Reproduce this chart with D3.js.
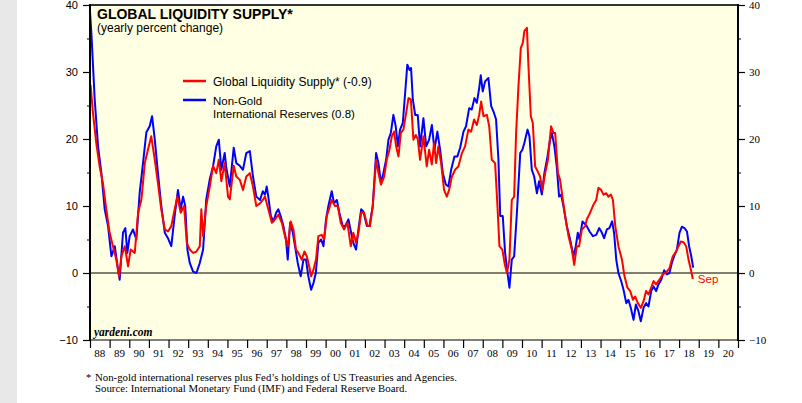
<!DOCTYPE html>
<html><head><meta charset="utf-8">
<script src="https://cdn.jsdelivr.net/npm/d3@7"></script>
<style>body{margin:0;background:#fff}svg{display:block}</style>
</head><body>
<script>
const yearLabels = ["88","89","90","91","92","93","94","95","96","97","98","99","00","01","02","03","04","05","06","07","08","09","10","11","12","13","14","15","16","17","18","19","20"];
const yTicks = [-10,0,10,20,30,40];
const yMinor = [-5,5,15,25,35];

const blueYears = [1988.00,1988.07,1988.24,1988.41,1988.58,1988.75,1988.92,1989.09,1989.26,1989.43,1989.51,1989.68,1989.80,1989.90,1990.02,1990.19,1990.36,1990.53,1990.70,1990.87,1991.04,1991.16,1991.30,1991.46,1991.63,1991.81,1991.97,1992.14,1992.31,1992.48,1992.62,1992.74,1992.85,1992.96,1993.08,1993.25,1993.42,1993.59,1993.76,1993.92,1994.10,1994.27,1994.43,1994.56,1994.69,1994.86,1994.94,1995.12,1995.32,1995.45,1995.63,1995.79,1995.96,1996.14,1996.30,1996.47,
1996.66,1996.80,1996.91,1997.00,1997.08,1997.21,1997.34,1997.48,1997.59,1997.71,1997.85,1997.98,1998.07,1998.19,1998.33,1998.44,1998.58,1998.73,1998.87,1999.00,1999.12,1999.26,1999.38,1999.50,1999.63,1999.77,1999.89,2000.02,2000.14,2000.31,2000.43,2000.57,2000.70,2000.87,2000.99,2001.16,2001.30,2001.41,2001.55,2001.67,2001.81,2001.92,2002.10,2002.23,2002.40,2002.57,2002.69,2002.82,2002.94,2003.08,2003.20,2003.32,2003.45,2003.57,2003.68,2003.79,2003.93,2004.05,2004.16,2004.27,2004.35,2004.44,2004.56,
2004.69,2004.81,2004.98,2005.12,2005.27,2005.41,2005.54,2005.69,2005.83,2005.97,2006.12,2006.25,2006.39,2006.56,2006.71,2006.85,2007.02,2007.15,2007.31,2007.44,2007.58,2007.70,2007.82,2007.90,2008.00,2008.12,2008.29,2008.43,2008.55,2008.68,2008.80,2008.89,2009.02,2009.14,2009.26,2009.36,2009.48,2009.60,2009.74,2009.91,2010.02,2010.12,2010.28,2010.38,2010.50,2010.62,2010.76,2010.87,2011.01,2011.14,2011.30,2011.43,2011.52,2011.65,2011.77,2011.89,2011.99,2012.11,2012.28,2012.45,2012.62,2012.74,2012.84,2012.93,2013.08,
2013.30,2013.44,2013.61,2013.78,2013.93,2014.07,2014.18,2014.32,2014.45,2014.59,2014.69,2014.80,2014.91,2015.05,2015.17,2015.31,2015.42,2015.54,2015.68,2015.80,2015.93,2016.05,2016.19,2016.32,2016.44,2016.58,2016.70,2016.83,2016.95,2017.09,2017.24,2017.38,2017.51,2017.63,2017.77,2017.89,2018.02,2018.14,2018.28,2018.40,2018.51,2018.62,2018.72];
const blueValues = [39,35.8,25.9,18.9,14.9,9.5,7,2.5,4,0.5,-1,6,6.7,3,5.5,6.5,5,12,16.4,21,21.9,23.4,19.9,14.9,10,6,5.2,4,8.5,12.4,9.5,11.4,10,3.5,1.5,0.2,0,1.5,3.5,11,14,16,18.9,19.9,15.4,17.9,15.7,12.9,18.7,16.4,16,15.4,17.9,18.2,14.4,11.4,
10.9,12.2,11.7,12.9,11.4,8.5,7.7,9,9.5,8.5,7,5,2,7.5,6,4,1.5,-0.5,2,2,-0.5,-2.5,-1.5,0,4.5,5,4,8,10,12.2,10.4,10.9,9,7,7,8,6,4.5,3.5,6.5,9.5,9.2,7,7,10,17.9,16.4,13.4,14.9,16.9,19.9,20.9,23.6,21.9,18.9,21.4,22.4,26.9,31.1,30.3,30.6,25.9,23.6,
23.6,18.9,23.1,18.9,19.9,22.1,18.4,21.1,18.4,14.9,13.2,12.9,15.4,17.4,17.4,18.7,21.1,21.9,24.6,24.4,26.1,25.4,27.6,29.5,27.1,28.6,29.1,24.9,24.1,22.9,16.9,8.5,8.5,3,0,-2.2,2,2.5,9,17.9,18.4,19.4,21.4,20.4,15.4,14.4,11.9,13.7,11.7,14.9,17.4,19.9,20.9,18.9,15.9,11.4,11.7,10,7,5,2.5,4,6,5,7.7,
7,6.2,5.5,5.7,6.7,6,5.2,6.5,6.7,7.7,6,2,0,-1.2,-2.5,-4.5,-4,-5.2,-7,-4.7,-5.7,-7.2,-5.2,-4.5,-5,-2.7,-2,-2.7,-1.7,-1,0.4,-0.2,0,1.5,2.7,3.5,6,6.9,6.7,6.2,4,2.5,0.8];

const redYears = [1988.03,1988.15,1988.32,1988.49,1988.66,1988.83,1989.00,1989.17,1989.34,1989.48,1989.60,1989.77,1989.94,1990.07,1990.28,1990.45,1990.62,1990.79,1990.95,1991.12,1991.30,1991.46,1991.63,1991.81,1991.97,1992.14,1992.31,1992.45,1992.62,1992.79,1992.93,1993.08,1993.25,1993.42,1993.59,1993.67,1993.76,1993.92,1994.10,1994.27,1994.43,1994.56,1994.69,1994.86,1995.03,1995.12,1995.32,1995.45,1995.63,1995.79,1995.96,1996.14,1996.30,1996.47,
1996.66,1996.80,1996.91,1997.00,1997.13,1997.26,1997.42,1997.59,1997.77,1997.93,1998.07,1998.22,1998.36,1998.49,1998.61,1998.78,1998.92,1999.04,1999.16,1999.26,1999.38,1999.51,1999.63,1999.80,1999.92,2000.06,2000.19,2000.31,2000.48,2000.62,2000.77,2000.94,2001.11,2001.28,2001.41,2001.55,2001.67,2001.81,2001.96,2002.13,2002.26,2002.40,2002.57,2002.69,2002.82,2002.98,2003.11,2003.25,2003.37,2003.49,2003.59,2003.71,2003.83,2003.96,2004.10,2004.22,2004.34,2004.47,2004.59,
2004.69,2004.81,2004.98,2005.15,2005.27,2005.41,2005.52,2005.63,2005.74,2005.88,2006.03,2006.17,2006.29,2006.43,2006.59,2006.76,2006.94,2007.10,2007.27,2007.41,2007.56,2007.70,2007.82,2007.92,2008.04,2008.21,2008.33,2008.46,2008.63,2008.75,2008.85,2009.00,2009.11,2009.23,2009.36,2009.48,2009.60,2009.70,2009.82,2009.94,2010.04,2010.12,2010.25,2010.33,2010.45,2010.55,2010.67,2010.79,2010.92,2011.04,2011.18,2011.32,2011.40,2011.48,2011.60,2011.69,2011.83,2011.94,2012.08,2012.20,2012.37,2012.54,2012.66,2012.79,2012.91,2013.05,2013.22,
2013.30,2013.47,2013.64,2013.78,2013.89,2014.03,2014.15,2014.29,2014.40,2014.53,2014.63,2014.75,2014.91,2015.09,2015.22,2015.37,2015.51,2015.65,2015.76,2015.90,2016.05,2016.19,2016.32,2016.44,2016.58,2016.70,2016.83,2017.00,2017.17,2017.34,2017.51,2017.68,2017.85,2017.97,2018.09,2018.22,2018.36,2018.48,2018.60,2018.70];
const redValues = [28.1,23.9,19.4,15.9,13.4,9.5,6,4,2,-0.5,2.5,4,1,3.5,3,9,11,16.4,18.4,20.4,16.9,13.4,9.5,6.5,6.2,7,9.5,11.4,9,10,4.5,3.5,3,3.2,4,9.5,5.5,10,12.9,16,14.9,16.9,13.7,16.4,11.4,11,16,14.4,13.9,12.4,14.4,14.9,12.9,10,
10.4,10.9,11.4,10.4,9,7.5,8,8.7,7.5,5.5,4,7.7,6.5,3.5,3,2,3.2,2.5,1,-0.5,0.5,2,5.5,5.7,5,8.5,9.7,10.9,10,10,7.5,6.5,7.5,4,6,4.5,6,9,9,7,7,10,16.9,14.9,13.2,14.4,16.9,18.4,20.4,21.1,18.9,17.4,20.9,21.4,23.9,26.1,25.9,19.9,20.6,
20,16.9,20.4,15.9,18.4,16.2,19.4,16.4,18.9,16.4,12.4,11.4,12.4,14.4,15.4,15.9,17.9,18.9,21.4,21.1,22.9,22.1,23.6,25.6,23.4,23.6,21.9,16.9,16.4,10,4,3.5,1.5,0,2,10.9,11.4,20.9,27.9,33.6,34.3,36.1,36.6,30.8,23.4,22.4,15.9,15.2,14.4,12.4,14.9,16.9,19.4,21.9,20.9,20.9,14.9,13.9,10.9,8.5,5.5,3.5,1.2,4,4,6.5,7,
8,9,10.2,10.9,12.7,12.4,11.7,11.9,11.4,11.7,10.9,7,4,2,-0.5,-2.2,-2.7,-4,-3.5,-4.5,-5.2,-4.2,-2.7,-3.2,-2.2,-1.2,-1.7,-1,-0.2,0.1,0.7,2.5,3.2,4,4.7,4.6,4,2,0.5,-0.9];

const W = 802, H = 403;
const svg = d3.select("body").append("svg").attr("width", W).attr("height", H);
const SANS = "'Liberation Sans', Arial, sans-serif";
const SERIF = "'Liberation Serif', 'Times New Roman', serif";

svg.append("rect").attr("x",0).attr("y",0).attr("width",17).attr("height",H).attr("fill","#e8e8e8");

const x = d3.scaleLinear().domain([1988, 2021]).range([90, 738]);
const y = d3.scaleLinear().domain([-10, 40]).range([340, 5]);

svg.append("rect").attr("x",90).attr("y",5).attr("width",648).attr("height",335).attr("fill","#ffffe3");

// zero line
svg.append("line").attr("x1",90).attr("x2",738).attr("y1",y(0)).attr("y2",y(0)).attr("stroke","#000").attr("stroke-width",1);

// lines
const pts = (xs, vs) => xs.map((d,i)=>[d, vs[i]]);
const line = d3.line().x(d=>x(d[0])).y(d=>y(d[1]));
const g = svg.append("g");
g.append("path").datum(pts(blueYears, blueValues)).attr("d", line).attr("fill","none").attr("stroke","#0000ff").attr("stroke-width",2).attr("stroke-linejoin","round");
g.append("path").datum(pts(redYears, redValues)).attr("d", line).attr("fill","none").attr("stroke","#ff0000").attr("stroke-width",2).attr("stroke-linejoin","round");

// border
svg.append("line").attr("x1",89).attr("x2",739).attr("y1",5).attr("y2",5).attr("stroke","#333").attr("stroke-width",2);
svg.append("line").attr("x1",90).attr("x2",90).attr("y1",4).attr("y2",341).attr("stroke","#000").attr("stroke-width",2);
svg.append("line").attr("x1",738).attr("x2",738).attr("y1",4).attr("y2",341).attr("stroke","#000").attr("stroke-width",2);
svg.append("line").attr("x1",89).attr("x2",739).attr("y1",340).attr("y2",340).attr("stroke","#000").attr("stroke-width",1);

// left axis
const la = svg.append("g").attr("transform","translate(90,0)")
  .call(d3.axisLeft(y).tickValues(yTicks).tickSize(7).tickPadding(5).tickFormat(d3.format("d")));
la.select(".domain").remove();
la.selectAll("text").attr("font-family", SANS).attr("font-size", 11).attr("fill","#000");
la.selectAll("line").attr("stroke-width",1.2);
const lm = svg.append("g").attr("transform","translate(90,0)")
  .call(d3.axisLeft(y).tickValues(yMinor).tickSize(3).tickFormat(""));
lm.select(".domain").remove();

// right axis
const ra = svg.append("g").attr("transform","translate(738,0)")
  .call(d3.axisRight(y).tickValues(yTicks).tickSize(7).tickPadding(4).tickFormat(d3.format("d")));
ra.select(".domain").remove();
ra.selectAll("text").attr("font-family", SERIF).attr("font-size", 11).attr("fill","#000");
ra.selectAll("line").attr("stroke-width",1.2);
const rm = svg.append("g").attr("transform","translate(738,0)")
  .call(d3.axisRight(y).tickValues(yMinor).tickSize(3).tickFormat(""));
rm.select(".domain").remove();

// bottom axis
const yearTicks = d3.range(1988, 2022);
const ba = svg.append("g").attr("transform","translate(0,340)")
  .call(d3.axisBottom(x).tickValues(yearTicks).tickSize(8).tickFormat(""));
ba.select(".domain").remove();
ba.selectAll("line").attr("stroke-width",1.2);
svg.append("g").selectAll("text").data(yearLabels).join("text")
  .attr("x",(d,i)=>x(1988+i+0.5)).attr("y",357).attr("text-anchor","middle")
  .attr("font-family", SERIF).attr("font-size", 11).text(d=>d);

// titles
svg.append("text").attr("x",97).attr("y",19).attr("font-family",SANS).attr("font-weight","bold").attr("font-size",14).text("GLOBAL LIQUIDITY SUPPLY*");
svg.append("text").attr("x",97).attr("y",32).attr("font-family",SANS).attr("font-size",12).text("(yearly percent change)");

// legend
svg.append("line").attr("x1",183).attr("x2",206).attr("y1",81).attr("y2",81).attr("stroke","#ff0000").attr("stroke-width",2.5);
svg.append("text").attr("x",213).attr("y",86).attr("font-family",SANS).attr("font-size",12).text("Global Liquidity Supply* (-0.9)");
svg.append("line").attr("x1",183).attr("x2",206).attr("y1",100).attr("y2",100).attr("stroke","#0000ff").attr("stroke-width",2.5);
svg.append("text").attr("x",213).attr("y",104.5).attr("font-family",SANS).attr("font-size",11.5).text("Non-Gold");
svg.append("text").attr("x",213).attr("y",117.5).attr("font-family",SANS).attr("font-size",11.5).text("International Reserves (0.8)");

// Sep label
svg.append("text").attr("x", x(redYears[redYears.length-1]) + 5).attr("y",283).attr("font-family",SANS).attr("font-size",11.5).attr("fill","#ff0000").text("Sep");

// yardeni
svg.append("text").attr("x",94).attr("y",336).attr("font-family",SERIF).attr("font-weight","bold").attr("font-style","italic").attr("font-size",11.5).text("yardeni.com");

// footnote
svg.append("text").attr("x",86).attr("y",381).attr("font-family",SERIF).attr("font-size",10.5).text("*");
svg.append("text").attr("x",95).attr("y",381).attr("font-family",SERIF).attr("font-size",10.8).text("Non-gold international reserves plus Fed\u2019s holdings of US Treasuries and Agencies.");
svg.append("text").attr("x",95).attr("y",392).attr("font-family",SERIF).attr("font-size",10.8).text("Source: International Monetary Fund (IMF) and Federal Reserve Board.");
</script>
</body></html>
